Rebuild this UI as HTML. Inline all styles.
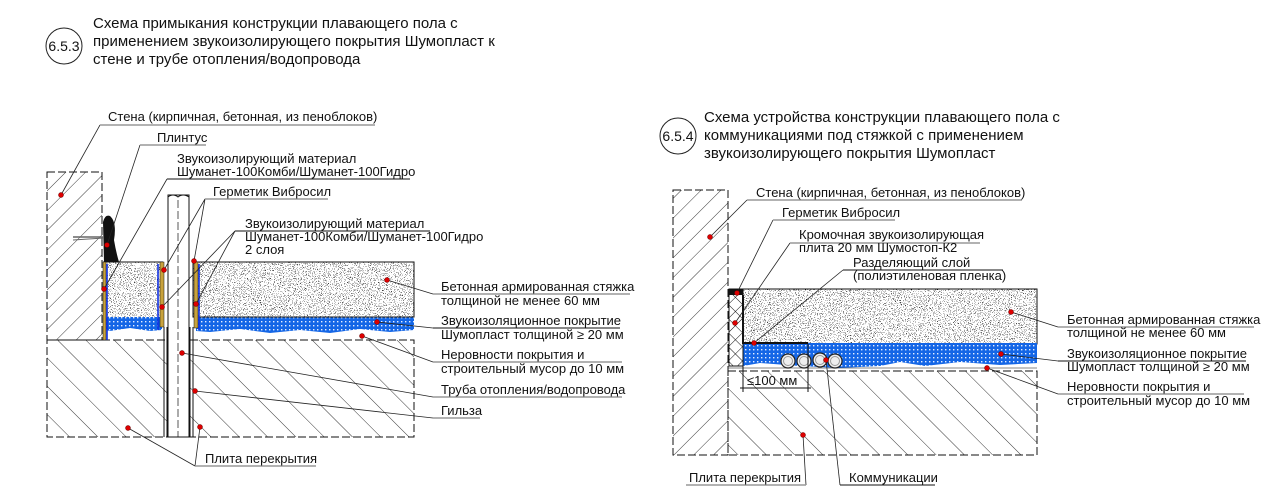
<!DOCTYPE html>
<html><head><meta charset="utf-8"><style>
html,body{margin:0;padding:0;background:#fff;}
svg{display:block;}
text{font-family:"Liberation Sans","DejaVu Sans",sans-serif;fill:#111;}
.t{font-size:15px;}
.l{font-size:13px;}
</style></head><body>
<svg width="1286" height="504" viewBox="0 0 1286 504" xmlns="http://www.w3.org/2000/svg">
<defs>
<pattern id="h1" width="14" height="14" patternUnits="userSpaceOnUse" patternTransform="rotate(45)">
<line x1="0" y1="0" x2="0" y2="14" stroke="#222" stroke-width="0.9"/></pattern>
<pattern id="h2" width="20" height="20" patternUnits="userSpaceOnUse" patternTransform="rotate(-45)">
<line x1="0" y1="0" x2="0" y2="20" stroke="#222" stroke-width="0.9"/></pattern>
<pattern id="x1" width="10" height="10" patternUnits="userSpaceOnUse" patternTransform="rotate(45)">
<line x1="0" y1="0" x2="0" y2="10" stroke="#111" stroke-width="1"/><line x1="0" y1="0" x2="10" y2="0" stroke="#111" stroke-width="1"/></pattern>
<filter id="spk" x="0" y="0" width="1" height="1">
<feTurbulence type="fractalNoise" baseFrequency="1.2" numOctaves="1" seed="3" result="n"/>
<feColorMatrix in="n" type="matrix" values="0 0 0 0 0  0 0 0 0 0  0 0 0 0 0  0 0 0 -22 8.3" result="m"/>
<feComposite in="m" in2="SourceGraphic" operator="in"/>
</filter>
<pattern id="bl" width="4" height="4" patternUnits="userSpaceOnUse">
<rect width="4" height="4" fill="#1466e6"/><rect x="1" y="1" width="1.4" height="1.4" fill="#e6efff"/></pattern>
</defs>

<circle cx="64" cy="46" r="18" fill="none" stroke="#222"/>
<text x="64" y="51" class="t" text-anchor="middle" style="font-size:14px">6.5.3</text>
<text x="93" y="28" class="t">Схема примыкания конструкции плавающего пола с</text>
<text x="93" y="46" class="t">применением звукоизолирующего покрытия Шумопласт к</text>
<text x="93" y="64" class="t">стене и трубе отопления/водопровода</text>

<rect x="47" y="172" width="55" height="168" fill="url(#h1)" stroke="#111" stroke-dasharray="8,3"/>
<rect x="47" y="340" width="367" height="97" fill="url(#h2)" stroke="#111" stroke-dasharray="8,3"/>
<rect x="103" y="262" width="60" height="55" fill="#fff"/>
<rect x="103" y="262" width="60" height="55" fill="#fff" filter="url(#spk)"/>
<rect x="193" y="262" width="221" height="55" fill="#fff"/>
<rect x="193" y="262" width="221" height="55" fill="#fff" filter="url(#spk)"/>
<rect x="193" y="262" width="221" height="55" fill="none" stroke="#111"/>
<line x1="103" y1="262" x2="163" y2="262" stroke="#111"/>
<path d="M106 317 H162 V330 L150 331 L130 328 L110 331 L106 330Z" fill="url(#bl)"/>
<path d="M196 317 H414 V330 L390 332 L360 329 L330 333 L300 330 L270 333 L240 329 L210 332 L196 331Z" fill="url(#bl)"/>
<line x1="193" y1="317" x2="414" y2="317" stroke="#111"/>
<rect x="103" y="262" width="3" height="78" fill="#c8a23c" stroke="#111" stroke-width="0.5"/>
<line x1="107" y1="264" x2="107" y2="340" stroke="#1030e0" stroke-width="1.6"/>
<rect x="160" y="262" width="4" height="65" fill="#c8a23c" stroke="#111" stroke-width="0.5"/>
<line x1="158" y1="264" x2="158" y2="330" stroke="#1030e0" stroke-width="1.6"/>
<rect x="194" y="262" width="4" height="66" fill="#c8a23c" stroke="#111" stroke-width="0.5"/>
<line x1="199" y1="264" x2="199" y2="330" stroke="#1030e0" stroke-width="1.6"/>
<rect x="168" y="195" width="21" height="242" fill="#fff" stroke="#111"/>
<path d="M168 197 Q173 193 178 197 Q183 193 189 197" fill="none" stroke="#111"/>
<line x1="164" y1="327" x2="164" y2="437" stroke="#111"/><line x1="167" y1="327" x2="167" y2="437" stroke="#111"/>
<line x1="190" y1="327" x2="190" y2="437" stroke="#111"/><line x1="193" y1="327" x2="193" y2="437" stroke="#111"/>
<line x1="178" y1="200" x2="178" y2="437" stroke="#111" stroke-dasharray="8,3" stroke-width="0.7"/>
<path d="M104 262 L103 222 Q105 214 110 216 Q117 222 114 240 Q116 252 119 262Z" fill="#111"/>
<line x1="73" y1="237" x2="104" y2="237" stroke="#666" stroke-width="1.5"/><line x1="73" y1="240" x2="104" y2="238" stroke="#666"/>

<g stroke="#222" stroke-width="0.8" fill="none">
<line x1="100" y1="125" x2="61" y2="195"/>
<line x1="140" y1="145" x2="107" y2="245"/>
<line x1="167" y1="179" x2="104" y2="289"/>
<line x1="205" y1="199" x2="164" y2="270"/>
<line x1="205" y1="199" x2="194" y2="261"/>
<line x1="235" y1="231" x2="162" y2="307"/>
<line x1="235" y1="231" x2="196" y2="304"/>
<line x1="387" y1="280" x2="433" y2="294"/>
<line x1="377" y1="322" x2="433" y2="328"/>
<line x1="362" y1="336" x2="433" y2="362"/>
<line x1="182" y1="353" x2="433" y2="397"/>
<line x1="195" y1="391" x2="433" y2="418"/>
<line x1="128" y1="428" x2="195" y2="466"/>
<line x1="200" y1="427" x2="195" y2="466"/>
</g>
<g stroke="#999" stroke-width="1.5">
<line x1="100" y1="125" x2="375" y2="125"/>
<line x1="140" y1="145" x2="206" y2="145"/>
<line x1="205" y1="199" x2="328" y2="199"/>
<line x1="433" y1="294" x2="630" y2="294"/>
<line x1="433" y1="362" x2="622" y2="362"/>
<line x1="433" y1="397" x2="622" y2="397"/>
<line x1="433" y1="418" x2="480" y2="418"/>
<line x1="195" y1="466" x2="316" y2="466"/>
</g>
<g stroke="#111" stroke-width="1">
<line x1="167" y1="179" x2="410" y2="179"/>
<line x1="235" y1="231" x2="430" y2="231"/>
<line x1="433" y1="328" x2="620" y2="328"/>
</g>
<g fill="#d00" stroke="#600" stroke-width="0.5">
<circle cx="61" cy="195" r="2.5"/><circle cx="107" cy="245" r="2.5"/><circle cx="104" cy="289" r="2.5"/>
<circle cx="164" cy="270" r="2.5"/><circle cx="194" cy="261" r="2.5"/><circle cx="162" cy="307" r="2.5"/>
<circle cx="196" cy="304" r="2.5"/><circle cx="387" cy="280" r="2.5"/><circle cx="377" cy="322" r="2.5"/>
<circle cx="362" cy="336" r="2.5"/><circle cx="182" cy="353" r="2.5"/><circle cx="195" cy="391" r="2.5"/>
<circle cx="128" cy="428" r="2.5"/><circle cx="200" cy="427" r="2.5"/>
</g>
<text x="108" y="121" class="l">Стена (кирпичная, бетонная, из пеноблоков)</text>
<text x="157" y="142" class="l">Плинтус</text>
<text x="177" y="163" class="l">Звукоизолирующий материал</text>
<text x="177" y="176" class="l">Шуманет-100Комби/Шуманет-100Гидро</text>
<text x="213" y="196" class="l">Герметик Вибросил</text>
<text x="245" y="228" class="l">Звукоизолирующий материал</text>
<text x="245" y="241" class="l">Шуманет-100Комби/Шуманет-100Гидро</text>
<text x="245" y="254" class="l">2 слоя</text>
<text x="441" y="291" class="l">Бетонная армированная стяжка</text>
<text x="441" y="305" class="l">толщиной не менее 60 мм</text>
<text x="441" y="325" class="l">Звукоизоляционное покрытие</text>
<text x="441" y="339" class="l">Шумопласт толщиной ≥ 20 мм</text>
<text x="441" y="359" class="l">Неровности покрытия и</text>
<text x="441" y="373" class="l">строительный мусор до 10 мм</text>
<text x="441" y="394" class="l">Труба отопления/водопровода</text>
<text x="441" y="415" class="l">Гильза</text>
<text x="205" y="463" class="l">Плита перекрытия</text>

<circle cx="678" cy="136" r="18" fill="none" stroke="#222"/>
<text x="678" y="141" class="t" text-anchor="middle" style="font-size:14px">6.5.4</text>
<text x="704" y="122" class="t">Схема устройства конструкции плавающего пола с</text>
<text x="704" y="140" class="t">коммуникациями под стяжкой с применением</text>
<text x="704" y="158" class="t">звукоизолирующего покрытия Шумопласт</text>

<rect x="673" y="190" width="55" height="265" fill="url(#h1)" stroke="#111" stroke-dasharray="8,3"/>
<rect x="728" y="371" width="309" height="84" fill="url(#h2)" stroke="#111" stroke-dasharray="8,3"/>
<rect x="743" y="289" width="294" height="55" fill="#fff"/>
<rect x="743" y="289" width="294" height="55" fill="#fff" filter="url(#spk)"/>
<rect x="743" y="289" width="294" height="55" fill="none" stroke="#111"/>
<path d="M743 343 H1037 V363 L1000 365 L960 362 L925 366 L900 362 L880 366 L840 368 L800 366 L760 363 L743 366Z" fill="url(#bl)"/>
<line x1="728" y1="368" x2="1037" y2="368" stroke="#111" stroke-width="0.6"/>
<rect x="729" y="289" width="14" height="77" fill="url(#x1)" stroke="#111"/>
<rect x="729" y="289" width="14" height="6" fill="#111"/>
<polyline points="743,295 743,343 808,343" fill="none" stroke="#111" stroke-width="2"/>
<g fill="#eee" stroke="#222" stroke-width="1.2">
<circle cx="788" cy="361" r="7"/><circle cx="804" cy="361" r="7"/><circle cx="820" cy="360" r="7"/><circle cx="835" cy="361" r="7"/>
</g>
<g fill="none" stroke="#999" stroke-width="1"><circle cx="788" cy="361" r="4.5"/><circle cx="804" cy="361" r="4.5"/><circle cx="820" cy="360" r="4.5"/><circle cx="835" cy="361" r="4.5"/></g>
<line x1="743" y1="344" x2="743" y2="392" stroke="#111"/><line x1="808" y1="344" x2="808" y2="392" stroke="#111"/>
<line x1="740" y1="388" x2="811" y2="388" stroke="#111"/>
<text x="747" y="385" class="l">≤100 мм</text>

<g stroke="#222" stroke-width="0.8" fill="none">
<line x1="747" y1="200" x2="710" y2="237"/>
<line x1="773" y1="220" x2="737" y2="293"/>
<line x1="790" y1="243" x2="735" y2="323"/>
<line x1="843" y1="270" x2="754" y2="343"/>
<line x1="1011" y1="312" x2="1058" y2="327"/>
<line x1="1001" y1="354" x2="1058" y2="361"/>
<line x1="987" y1="368" x2="1058" y2="394"/>
<line x1="803" y1="435" x2="806" y2="485"/>
<line x1="826" y1="360" x2="840" y2="485"/>
</g>
<g stroke="#999" stroke-width="1.5">
<line x1="747" y1="200" x2="1022" y2="200"/>
<line x1="773" y1="220" x2="895" y2="220"/>
<line x1="790" y1="243" x2="980" y2="243"/>
<line x1="1058" y1="327" x2="1254" y2="327"/>
<line x1="1058" y1="394" x2="1244" y2="394"/>
<line x1="686" y1="485" x2="806" y2="485"/>
</g>
<g stroke="#111" stroke-width="1">
<line x1="843" y1="270" x2="1003" y2="270"/>
<line x1="1058" y1="361" x2="1246" y2="361"/>
<line x1="840" y1="485" x2="935" y2="485"/>
</g>
<g fill="#d00" stroke="#600" stroke-width="0.5">
<circle cx="710" cy="237" r="2.5"/><circle cx="737" cy="293" r="2.5"/><circle cx="735" cy="323" r="2.5"/>
<circle cx="754" cy="343" r="2.5"/><circle cx="1011" cy="312" r="2.5"/><circle cx="1001" cy="354" r="2.5"/>
<circle cx="987" cy="368" r="2.5"/><circle cx="803" cy="435" r="2.5"/><circle cx="826" cy="360" r="2.5"/>
</g>
<text x="756" y="197" class="l">Стена (кирпичная, бетонная, из пеноблоков)</text>
<text x="782" y="217" class="l">Герметик Вибросил</text>
<text x="799" y="239" class="l">Кромочная звукоизолирующая</text>
<text x="799" y="252" class="l">плита 20 мм Шумостоп-К2</text>
<text x="853" y="267" class="l">Разделяющий слой</text>
<text x="853" y="280" class="l">(полиэтиленовая пленка)</text>
<text x="1067" y="324" class="l">Бетонная армированная стяжка</text>
<text x="1067" y="337" class="l">толщиной не менее 60 мм</text>
<text x="1067" y="358" class="l">Звукоизоляционное покрытие</text>
<text x="1067" y="371" class="l">Шумопласт толщиной ≥ 20 мм</text>
<text x="1067" y="391" class="l">Неровности покрытия и</text>
<text x="1067" y="405" class="l">строительный мусор до 10 мм</text>
<text x="689" y="482" class="l">Плита перекрытия</text>
<text x="849" y="482" class="l">Коммуникации</text>
</svg>
</body></html>
